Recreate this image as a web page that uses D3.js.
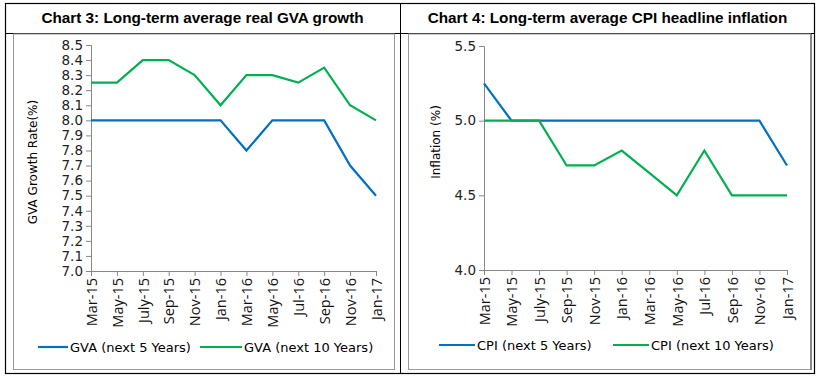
<!DOCTYPE html>
<html>
<head>
<meta charset="utf-8">
<script src="https://cdn.jsdelivr.net/npm/d3@7"></script>
<style>
body{margin:0;background:#fff;}
</style>
</head>
<body>
<script>
var months = ["Mar-15","May-15","July-15","Sep-15","Nov-15","Jan-16","Mar-16","May-16","Jul-16","Sep-16","Nov-16","Jan-17"];

var gva5 = [8.0,8.0,8.0,8.0,8.0,8.0,7.8,8.0,8.0,8.0,7.7,7.5];
var gva10 = [8.25,8.25,8.4,8.4,8.3,8.1,8.3,8.3,8.25,8.35,8.1,8.0];

var cpi5 = [5.25,5.0,5.0,5.0,5.0,5.0,5.0,5.0,5.0,5.0,5.0,4.7];
var cpi10 = [5.0,5.0,5.0,4.7,4.7,4.8,4.65,4.5,4.8,4.5,4.5,4.5];

var gvaTicks = d3.range(70,86).map(function(v){return v/10;});
var cpiTicks = [4.0,4.5,5.0,5.5];

var blue = "#0070c0";
var green = "#00b050";

var w = 820, h = 380;
var svg = d3.select("body").append("svg").attr("width",w).attr("height",h);

// table frame
svg.append("rect").attr("x",5.5).attr("y",3.5).attr("width",809).attr("height",370)
	.attr("fill","none").attr("stroke","#000").attr("stroke-width",1.2);
svg.append("line").attr("x1",5).attr("x2",815).attr("y1",33.5).attr("y2",33.5).attr("stroke","#000");
svg.append("line").attr("x1",400.5).attr("x2",400.5).attr("y1",3).attr("y2",374).attr("stroke","#000");

// inner chart frames
svg.append("rect").attr("x",13.5).attr("y",34).attr("width",381).attr("height",335.5)
	.attr("fill","none").attr("stroke","#999");
svg.append("rect").attr("x",408.5).attr("y",34).attr("width",402).attr("height",335.5)
	.attr("fill","none").attr("stroke","#999");
svg.append("line").attr("x1",811).attr("x2",811).attr("y1",34).attr("y2",370).attr("stroke","#888").attr("stroke-width",2);

function chart(cfg){
	var g = svg.append("g");

	g.append("text").attr("x",cfg.cx).attr("y",23)
		.attr("text-anchor","middle")
		.style("font-family","Liberation Sans, Arial, sans-serif")
		.style("font-weight","bold").style("font-size","15.3px")
		.text(cfg.title);

	var x = d3.scalePoint().domain(months).range([cfg.x0,cfg.x1]);
	var y = d3.scaleLinear().domain(cfg.domain).range([cfg.y1,cfg.y0]);

	var ya = g.append("g").attr("transform","translate("+cfg.x0+",0)")
		.call(d3.axisLeft(y).tickValues(cfg.ticks).tickFormat(d3.format(".1f")).tickSizeOuter(0).tickSize(5).tickPadding(3));
	ya.selectAll("text").style("font-family","DejaVu Sans, Verdana, sans-serif").style("font-size","13.5px").attr("fill","#222");

	var xa = g.append("g").attr("transform","translate(0,"+cfg.y1+")")
		.call(d3.axisBottom(x).tickSizeOuter(0).tickSize(5).tickPadding(4));
	xa.selectAll("text")
		.attr("transform","rotate(-90)")
		.attr("text-anchor","end")
		.attr("x",-7).attr("y",0).attr("dy","0.36em")
		.style("font-family","Open Sans, sans-serif").style("font-size","14.5px").attr("fill","#111");

	g.selectAll(".domain, .tick line").attr("stroke","#888");

	g.append("text")
		.attr("transform","translate("+cfg.lx+","+cfg.ly+") rotate(-90)")
		.attr("text-anchor","middle")
		.style("font-family","DejaVu Sans, Verdana, sans-serif").style("font-size","12px")
		.text(cfg.ylabel);

	var line = d3.line().x(function(d,i){return x(months[i]);}).y(function(d){return y(d);});

	cfg.series.forEach(function(s){
		g.append("path").datum(s.values).attr("d",line)
			.attr("fill","none").attr("stroke",s.color).attr("stroke-width",2.2);
	});

	// legend
	cfg.series.forEach(function(s){
		g.append("line").attr("x1",s.lx).attr("x2",s.lx+s.len).attr("y1",cfg.legY).attr("y2",cfg.legY)
			.attr("stroke",s.color).attr("stroke-width",2.2);
		g.append("text").attr("x",s.lx+s.len+2).attr("y",cfg.legY).attr("dy","0.35em")
			.style("font-family","DejaVu Sans, Verdana, sans-serif").style("font-size","13px")
			.text(s.name);
	});
}

chart({
	title:"Chart 3: Long-term average real GVA growth", cx:202.5,
	x0:91, x1:376, y0:45, y1:271, domain:[7.0,8.5], ticks:gvaTicks,
	ylabel:"GVA Growth Rate(%)", lx:37, ly:162, legY:347,
	series:[
		{name:"GVA (next 5 Years)", values:gva5, color:blue, lx:38, len:30},
		{name:"GVA (next 10 Years)", values:gva10, color:green, lx:200, len:42}
	]
});

chart({
	title:"Chart 4: Long-term average CPI headline inflation", cx:607.5,
	x0:484, x1:787, y0:46, y1:270, domain:[4.0,5.5], ticks:cpiTicks,
	ylabel:"Inflation (%)", lx:440, ly:142, legY:345,
	series:[
		{name:"CPI (next 5 Years)", values:cpi5, color:blue, lx:439, len:36},
		{name:"CPI (next 10 Years)", values:cpi10, color:green, lx:613, len:36}
	]
});
</script>
</body>
</html>
